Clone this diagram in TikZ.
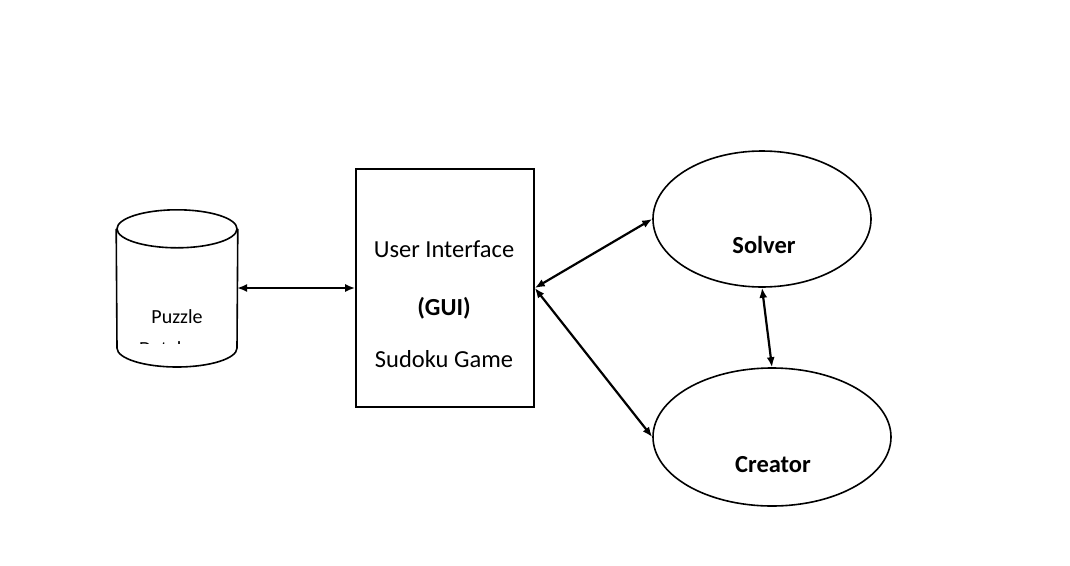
\documentclass[tikz,border=0pt]{standalone}
\usepackage{fontspec}
\setmainfont{Carlito}
\usepackage{tikz}
\usetikzlibrary{shapes.geometric, arrows.meta, positioning}

\begin{document}
\begin{tikzpicture}[x=1pt, y=-1pt,
  shape line/.style={draw, line width=1.6pt},
  link/.style={{Latex[length=10pt,width=8pt]}-{Latex[length=10pt,width=8pt]}, line width=2.2pt},
  boxtext/.style={font=\fontsize{24.5}{29}\selectfont, anchor=base},
  bubtext/.style={font=\fontsize{24.5}{29}\selectfont\bfseries, anchor=base}]
\useasboundingbox (0,0) rectangle (1070,565);
% --- database ---
\node[minimum width=120pt, minimum height=158pt, inner sep=0pt, outer sep=0pt] (db) at (177,288) {};
\node[shape line, ellipse, minimum width=120pt, minimum height=38pt, inner sep=0pt, anchor=north] (dbtop) at (db.north) {};
\draw[shape line] (dbtop.west) -- (117,348)
  .. controls (117,358.5) and (143.9,367) .. (177,367)
  .. controls (210.1,367) and (237,358.5) .. (237,348) -- (dbtop.east);
\begin{scope}
  \clip (110,295) rectangle (250,343);
  \node[boxtext, font=\fontsize{20}{24}\selectfont] (dbname) at (177,323) {Puzzle};
  \node[boxtext, font=\fontsize{20}{24}\selectfont] (dbname2) at (177,355) {Database};
\end{scope}
% --- user interface ---
\node[shape line, rectangle, minimum width=178pt, minimum height=238pt] (gui) at (445,288) {};
\node[boxtext] (ui) at (444,257) {User Interface};
\node[bubtext] (guiname) at (444,315) {(GUI)};
\node[boxtext] (game) at (444,367) {Sudoku Game};
% --- solver / creator ---
\node[shape line, ellipse, minimum width=218pt, minimum height=136pt] (solver) at (762,219) {};
\node[bubtext] (solvername) at (764,253) {Solver};
\node[shape line, ellipse, minimum width=238pt, minimum height=138pt] (creator) at (772,437) {};
\node[bubtext] (creatorname) at (773,472) {Creator};
% --- links ---
\draw[link] (db.east) -- (gui.west);
\draw[link] (gui.east) -- (solver.west);
\draw[link] (gui.east) -- (creator.west);
\draw[link] (solver.south) -- (creator.north);
\end{tikzpicture}
\end{document}
